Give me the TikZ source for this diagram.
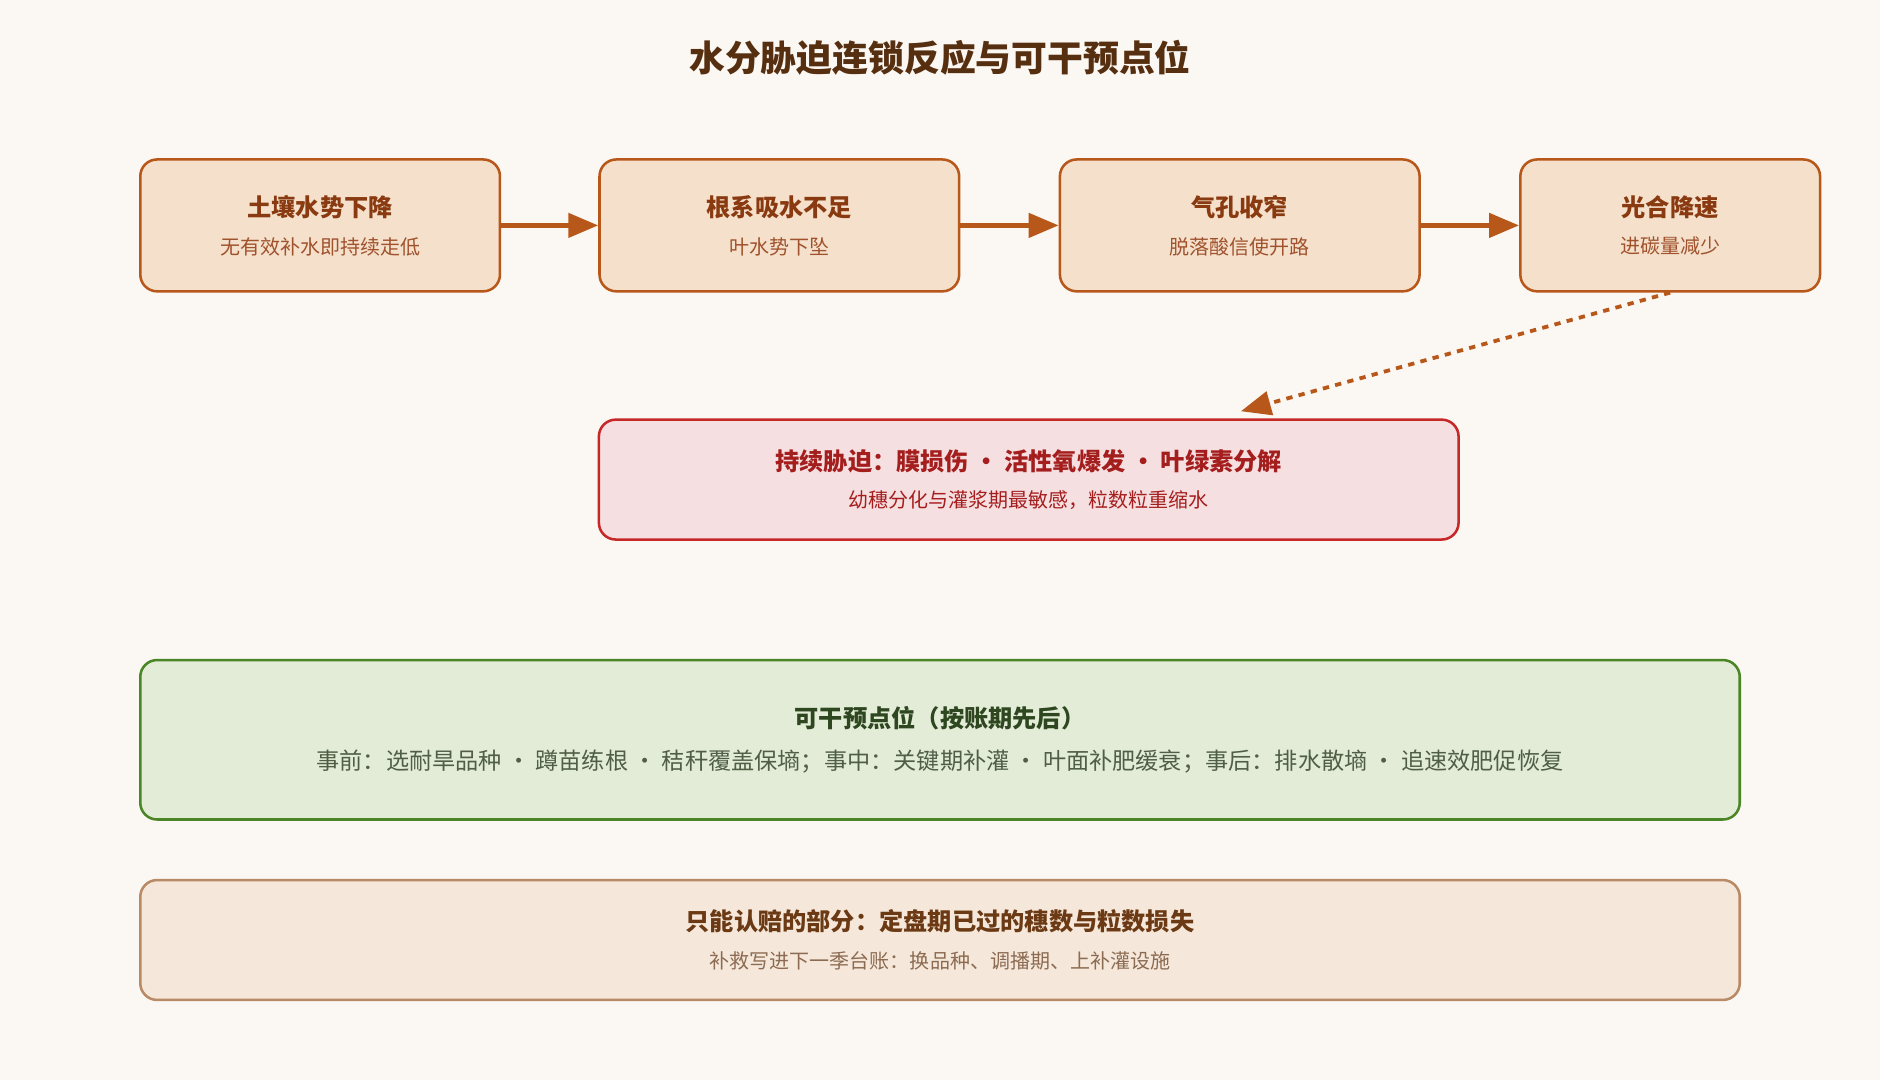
\documentclass[tikz,border=0pt]{standalone}
\usepackage{fontspec}
\setmainfont{Noto Sans CJK SC}
\usetikzlibrary{positioning,arrows.meta}
\definecolor{bgpaper}{HTML}{FBF7F2}
\definecolor{stepfill}{HTML}{F4E0CB}
\definecolor{stepline}{HTML}{B8571A}
\definecolor{steptitle}{HTML}{8A3A10}
\definecolor{stepsub}{HTML}{A0522D}
\definecolor{harmfill}{HTML}{F6DFE0}
\definecolor{harmline}{HTML}{C62828}
\definecolor{harmtext}{HTML}{A51E1E}
\definecolor{fixfill}{HTML}{E3ECD6}
\definecolor{fixline}{HTML}{4A8526}
\definecolor{fixtitle}{HTML}{2E4720}
\definecolor{fixtext}{HTML}{4F5E45}
\definecolor{lossfill}{HTML}{F5E8DA}
\definecolor{lossline}{HTML}{B88A66}
\definecolor{losstitle}{HTML}{6B3A14}
\definecolor{losstext}{HTML}{8C6B52}
\begin{document}
\begin{tikzpicture}
[x=0.2mm,y=-0.2mm,
 stage/.style={draw=stepline,fill=stepfill,line width=1.2pt,rounded corners=8pt,
   minimum height=22mm,align=center,font=\fontsize{9.5}{18}\selectfont,text=stepsub},
 flow/.style={-{Triangle[length=5mm,width=4mm]},line width=2.2pt,draw=stepline},
 wide/.style={line width=1.2pt,rounded corners=8pt,align=center}]
\fill[bgpaper] (0,0) rectangle (1568,901);
\node[font=\fontsize{17}{20}\selectfont\bfseries,text=losstitle!80!black] (title) at (784,48) {水分胁迫连锁反应与可干预点位};
\node[stage,minimum width=60mm] (soil) at (267,188) {{\fontsize{11.5}{14}\selectfont\bfseries\color{steptitle}土壤水势下降}\\无有效补水即持续走低};
\node[stage,minimum width=60mm] (root) at (650,188) {{\fontsize{11.5}{14}\selectfont\bfseries\color{steptitle}根系吸水不足}\\叶水势下坠};
\node[stage,minimum width=60mm] (stoma) at (1034,188) {{\fontsize{11.5}{14}\selectfont\bfseries\color{steptitle}气孔收窄}\\脱落酸信使开路};
\node[stage,minimum width=50mm] (photo) at (1393,188) {{\fontsize{11.5}{14}\selectfont\bfseries\color{steptitle}光合降速}\\进碳量减少};
\draw[flow] (soil) -- (root);
\draw[flow] (root) -- (stoma);
\draw[flow] (stoma) -- (photo);
\node[wide,draw=harmline,fill=harmfill,minimum width=143.4mm,minimum height=20mm,
  font=\fontsize{9.5}{18}\selectfont,text=harmtext] (stress) at (858,400)
  {{\fontsize{11.5}{14}\selectfont\bfseries 持续胁迫：膜损伤 • 活性氧爆发 • 叶绿素分解}\\幼穗分化与灌浆期最敏感，粒数粒重缩水};
\coordinate (hit) at (1035,343);
\draw[flow,line width=1.8pt,dashed] (photo.south) -- (hit);
\node[wide,draw=fixline,fill=fixfill,minimum width=266.8mm,minimum height=26.6mm,
  font=\fontsize{11}{20}\selectfont,text=fixtext] (fix) at (784,617)
  {{\fontsize{11.5}{14}\selectfont\bfseries\color{fixtitle}可干预点位（按账期先后）}\\事前：选耐旱品种 · 蹲苗练根 · 秸秆覆盖保墒；事中：关键期补灌 · 叶面补肥缓衰；事后：排水散墒 · 追速效肥促恢复};
\node[wide,draw=lossline,fill=lossfill,minimum width=266.8mm,minimum height=20mm,
  font=\fontsize{9.5}{18}\selectfont,text=losstext] (loss) at (784,784)
  {{\fontsize{11.5}{14}\selectfont\bfseries\color{losstitle}只能认赔的部分：定盘期已过的穗数与粒数损失}\\补救写进下一季台账：换品种、调播期、上补灌设施};
\end{tikzpicture}
\end{document}
